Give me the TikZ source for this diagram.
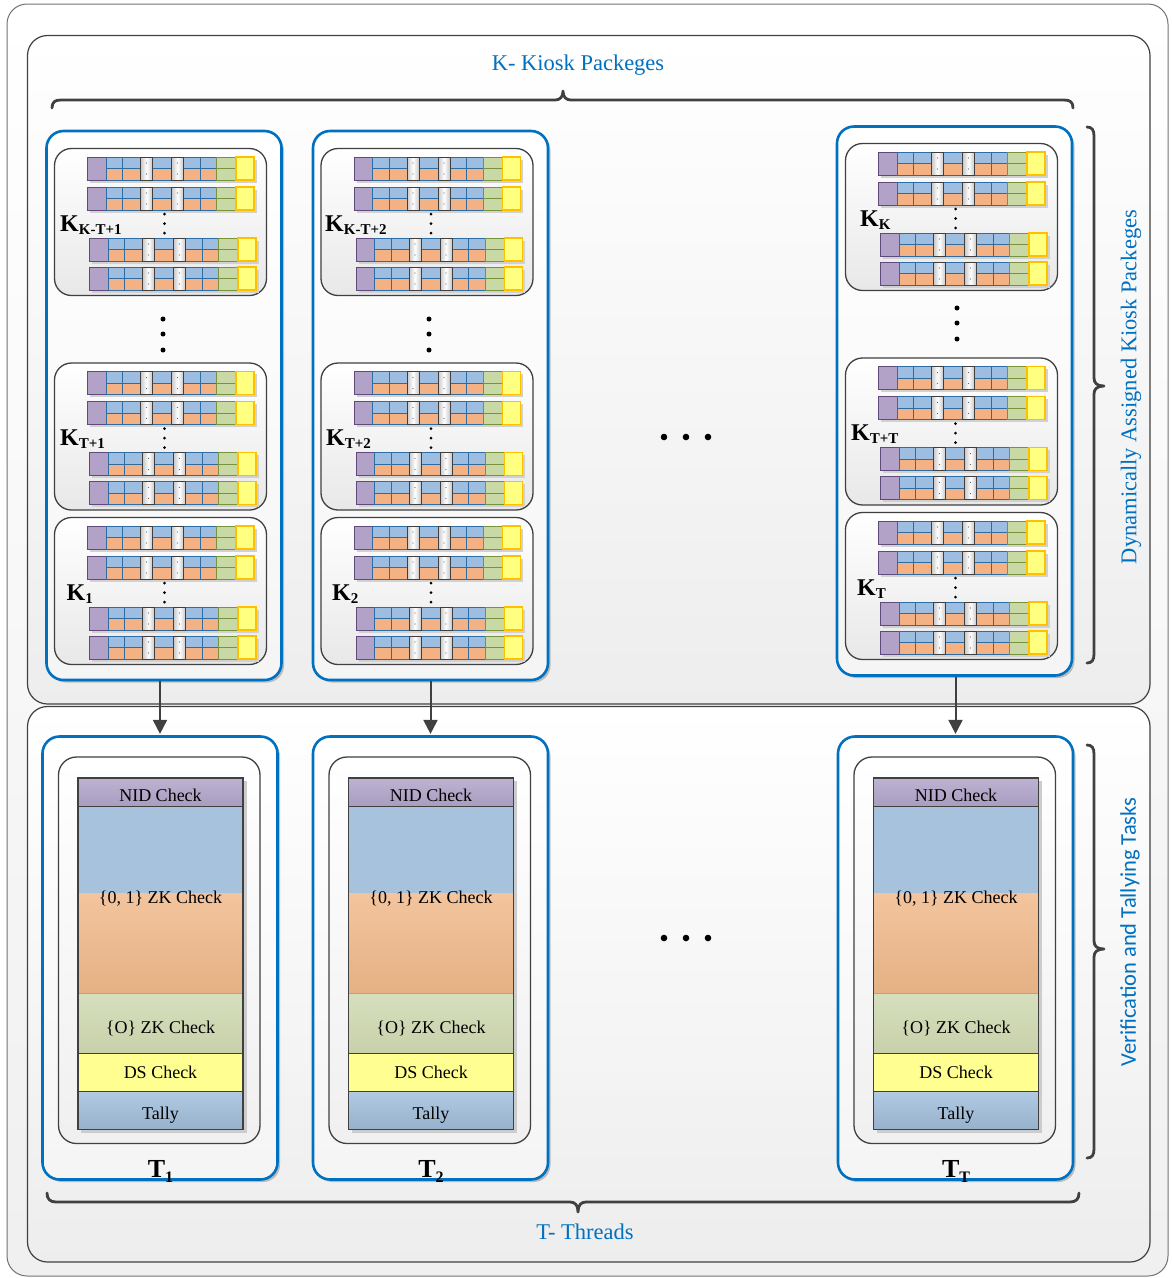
\documentclass[tikz,border=0pt]{standalone}
\usepackage{fontspec}
\setmainfont{Liberation Serif}
\newfontfamily\carlito{Carlito}
\usetikzlibrary{arrows.meta,shadows}

\definecolor{kblue}{HTML}{0070C0}
\definecolor{dgray}{HTML}{404040}
% kiosk package row colours
\definecolor{rpurf}{HTML}{B3A2C7}
\definecolor{rpurd}{HTML}{604A7B}
\definecolor{rblf}{HTML}{9DBEE0}
\definecolor{rorf}{HTML}{F4B183}
\definecolor{rgrd}{HTML}{2E6DA4}
\definecolor{rgrf}{HTML}{C9D9A5}
\definecolor{rgrl}{HTML}{77933C}
\definecolor{ryef}{HTML}{FFFF80}
\definecolor{ryel}{HTML}{FFC000}
% thread stack colours
\definecolor{snid}{HTML}{B2A5CA}
\definecolor{sblu}{HTML}{A6C2DD}
\definecolor{sora}{HTML}{F1BA8C}
\definecolor{sgrn}{HTML}{D2DBB4}
\definecolor{syel}{HTML}{FFFF91}
\definecolor{stal}{HTML}{A4C1DE}

\tikzset{
  frame/.style={draw=black!55, line width=1pt, rounded corners=20pt, top color=white, bottom color=black!6},
  panel/.style={draw=dgray, line width=1.2pt, rounded corners=20pt, top color=white, bottom color=black!7},
  pkbox/.style={draw=dgray, line width=1.3pt, rounded corners=17pt, top color=white, bottom color=black!9},
  colbox/.style={draw=kblue, line width=2.6pt, rounded corners=17pt, top color=white, bottom color=black!4,
    minimum width=235pt, inner sep=0pt,
    drop shadow={shadow xshift=2.5pt, shadow yshift=-2.5pt, opacity=0.22, fill=black}},
  innerbox/.style={draw=dgray, line width=1.3pt, rounded corners=18pt, top color=white, bottom color=black!6},
  brace/.style={draw=dgray, line width=2.8pt, line cap=round, line join=round},
  arr/.style={draw=dgray, line width=2pt, -{Triangle[width=14pt,length=14pt]}, shorten >=1.3pt},
  klab/.style={font=\fontsize{24}{24}\selectfont\bfseries, inner sep=0pt},
  tlab/.style={font=\fontsize{26}{26}\selectfont\bfseries, inner sep=0pt},
  slab/.style={font=\fontsize{18}{20}\selectfont, inner sep=0pt, anchor=base},
  blab/.style={font=\fontsize{22.5}{24}\selectfont, text=kblue, inner sep=0pt},
  rpur/.style={fill=rpurf, draw=rpurd, line width=1pt},
  rgrid/.style={draw=rgrd, line width=1pt},
  rgap/.style={draw=dgray, line width=0.9pt, left color=black!22, right color=black!22, middle color=white},
  rgreen/.style={fill=rgrf, draw=rgrl, line width=1pt},
  ryellow/.style={fill=ryef, draw=ryel, line width=1.2pt},
  sline/.style={draw=dgray, line width=1.2pt},
}

\newcommand\ksub[1]{\raisebox{-3pt}{\fontsize{15}{15}\selectfont\bfseries #1}}
\newcommand\tsub[1]{\raisebox{-5pt}{\fontsize{16}{16}\selectfont\bfseries #1}}

% one ballot row of a kiosk package, top-left corner at (#1,#2)
\newcommand\krow[2]{%
  \begin{scope}[shift={({#1},{#2})}]
    \fill[black!18] (2.5,2.5) rectangle (169,25.5);
    \draw[rpur] (0,0) rectangle (18.5,23);
    \foreach \a/\b in {18.5/35,35/53,65/84,96/112.5,112.5/129}{
      \fill[rblf] (\a,0) rectangle (\b,11.5);
      \fill[rorf] (\a,11.5) rectangle (\b,23);
    }
    \foreach \a/\b in {18.5/35,35/53,65/84,96/112.5,112.5/129}{
      \draw[rgrid] (\a,0) rectangle (\b,23) (\a,11.5) -- (\b,11.5);
    }
    \foreach \a/\b in {53/65,84/96}{
      \draw[rgap] (\a,0) rectangle (\b,23);
      \fill[black!60] ({(\a+\b)/2},6) circle (0.7) ({(\a+\b)/2},17) circle (0.7);
    }
    \draw[rgreen] (129,0) rectangle (148.5,23) (129,11.5) -- (148.5,11.5);
    \draw[ryellow] (148.5,0) rectangle (166.5,23);
  \end{scope}}

% kiosk package: x, y of top-left, label node name, subscript, label x offset
\newcommand\kpkg[5]{%
  \draw[pkbox] (#1,#2) rectangle ++(212,147);
  \krow{#1+33}{#2+8.5}
  \krow{#1+33}{#2+38.5}
  \krow{#1+35}{#2+89.5}
  \krow{#1+35}{#2+118.5}
  \foreach \d in {65.5,75,84.5} \fill[black] ({#1+110},{#2+\d}) circle (1.5);
  \node[klab, anchor=base west] (#3) at ({#1+#5},{#2+82.5}) {K\ksub{#4}};
}

% verification task stack of one thread, left edge at #1
\newcommand\tstack[2]{%
  \fill[black!20] ({#1+3},781) rectangle ({#1+168.5},1132.5);
  \fill[top color=snid!85!white, bottom color=snid!95!black] (#1,778) rectangle ({#1+165},806.5);
  \fill[sblu] (#1,806.5) rectangle ({#1+165},893.5);
  \fill[top color=sora!85!white, bottom color=sora!95!black] (#1,893.5) rectangle ({#1+165},993.5);
  \fill[top color=sgrn!90!white, bottom color=sgrn!95!black] (#1,993.5) rectangle ({#1+165},1053.5);
  \fill[syel] (#1,1053.5) rectangle ({#1+165},1091.5);
  \fill[top color=stal!85!white, bottom color=stal!92!black] (#1,1091.5) rectangle ({#1+165},1129.5);
  \draw[black!35, line width=0.8pt] (#1,993.5) -- ++(165,0);
  \draw[sline] (#1,778) rectangle ({#1+165},1129.5)
    (#1,806.5) -- ++(165,0) (#1,1053.5) -- ++(165,0) (#1,1091.5) -- ++(165,0);
  \node[slab] (nid#2) at ({#1+82.5},801.5) {NID Check};
  \node[slab] (zka#2) at ({#1+82.5},903) {\{0, 1\} ZK Check};
  \node[slab] (zkb#2) at ({#1+82.5},1033) {\{O\} ZK Check};
  \node[slab] (ds#2) at ({#1+82.5},1078.5) {DS Check};
  \node[slab] (tal#2) at ({#1+82.5},1119) {Tally};
}

\begin{document}
\begin{tikzpicture}[x=1pt,y=-1pt]
\useasboundingbox (0,0) rectangle (1171,1278);
\fill[white] (0,0) rectangle (1171,1278);

% frame and the two panels
\draw[frame] (7,4) rectangle (1168,1276);
\draw[panel] (27.5,35.5) rectangle (1150,704);
\draw[panel] (27.5,706.5) rectangle (1150,1262);

% kiosk package columns
\node[colbox, minimum height=549pt] (c1) at (164,405.5) {};
\node[colbox, minimum height=549pt] (c2) at (430.5,405.5) {};
\node[colbox, minimum height=549pt] (c3) at (954.5,401) {};

\kpkg{54.5}{148.5}{kka}{K-T+1}{5.5}
\kpkg{54.5}{363}{kta}{T+1}{5.5}
\kpkg{54.5}{517.5}{kone}{1}{12}
\foreach \y in {319,334,350} \fill[black] (163,\y) circle (2.5);

\kpkg{321}{148.5}{kkb}{K-T+2}{4}
\kpkg{321}{363}{ktb}{T+2}{5}
\kpkg{321}{517.5}{ktwo}{2}{11}
\foreach \y in {319,334,350} \fill[black] (429,\y) circle (2.5);

\kpkg{845.5}{143.5}{kkk}{K}{14.5}
\kpkg{845.5}{358}{ktt}{T+T}{5.5}
\kpkg{845.5}{512.5}{kt}{T}{11.5}
\foreach \y in {308,323,339} \fill[black] (957,\y) circle (2.5);

\foreach \x in {664,686,708} \fill[black] (\x,437) circle (3.3);

% thread columns
\foreach \i/\dx/\tsb in {1/0/1, 2/270.5/2, 3/795.5/T}{
  \node[colbox, minimum height=443pt] (t\i) at ({160+\dx},958) {};
  \draw[innerbox] ({58.5+\dx},757) rectangle ({260+\dx},1143.5);
  \tstack{78+\dx}{\i}
  \node[tlab, anchor=base] (tl\i) at ({160.5+\dx},1177) {T\tsub{\tsb}};
}

\foreach \x in {664,686,708} \fill[black] (\x,938) circle (3.3);

% packages handed to threads
\foreach \i in {1,2,3} \draw[arr] (t\i.north |- c\i.south) -- (t\i.north);

% braces
\draw[brace] (52,108) .. controls (52,102) and (55,100) .. (61,100) -- (555,100)
  .. controls (560,100) and (563,97) .. (563,91) .. controls (563,97) and (566,100) .. (571,100)
  -- (1064,100) .. controls (1070,100) and (1073,102) .. (1073,108);
\draw[brace] (47,1193) .. controls (47,1199) and (50,1202) .. (56,1202) -- (570,1202)
  .. controls (575,1202) and (578,1205) .. (578,1212) .. controls (578,1205) and (581,1202) .. (586,1202)
  -- (1070,1202) .. controls (1076,1202) and (1079,1199) .. (1079,1193);
\draw[brace] (1087,127) .. controls (1092,127) and (1094,130) .. (1094,136) -- (1094,378)
  .. controls (1094,383) and (1097,386) .. (1104,386) .. controls (1097,386) and (1094,389) .. (1094,394)
  -- (1094,654) .. controls (1094,660) and (1092,663) .. (1087,663);
\draw[brace] (1087,745) .. controls (1092,745) and (1094,748) .. (1094,754) -- (1094,941)
  .. controls (1094,946) and (1097,949) .. (1104,949) .. controls (1097,949) and (1094,952) .. (1094,957)
  -- (1094,1149) .. controls (1094,1155) and (1092,1158) .. (1087,1158);

% captions
\node[blab] (kpk) at (578,65) {K- Kiosk Packeges};
\node[blab] (thr) at (585,1232) {T- Threads};
\node[blab, rotate=90] (dak) at (1131,387) {Dynamically Assigned Kiosk Packeges};
\node[blab, font=\carlito\fontsize{22.5}{24}\selectfont, rotate=90] (vtt) at (1130,932) {Verification and Tallying Tasks};
\end{tikzpicture}
\end{document}
